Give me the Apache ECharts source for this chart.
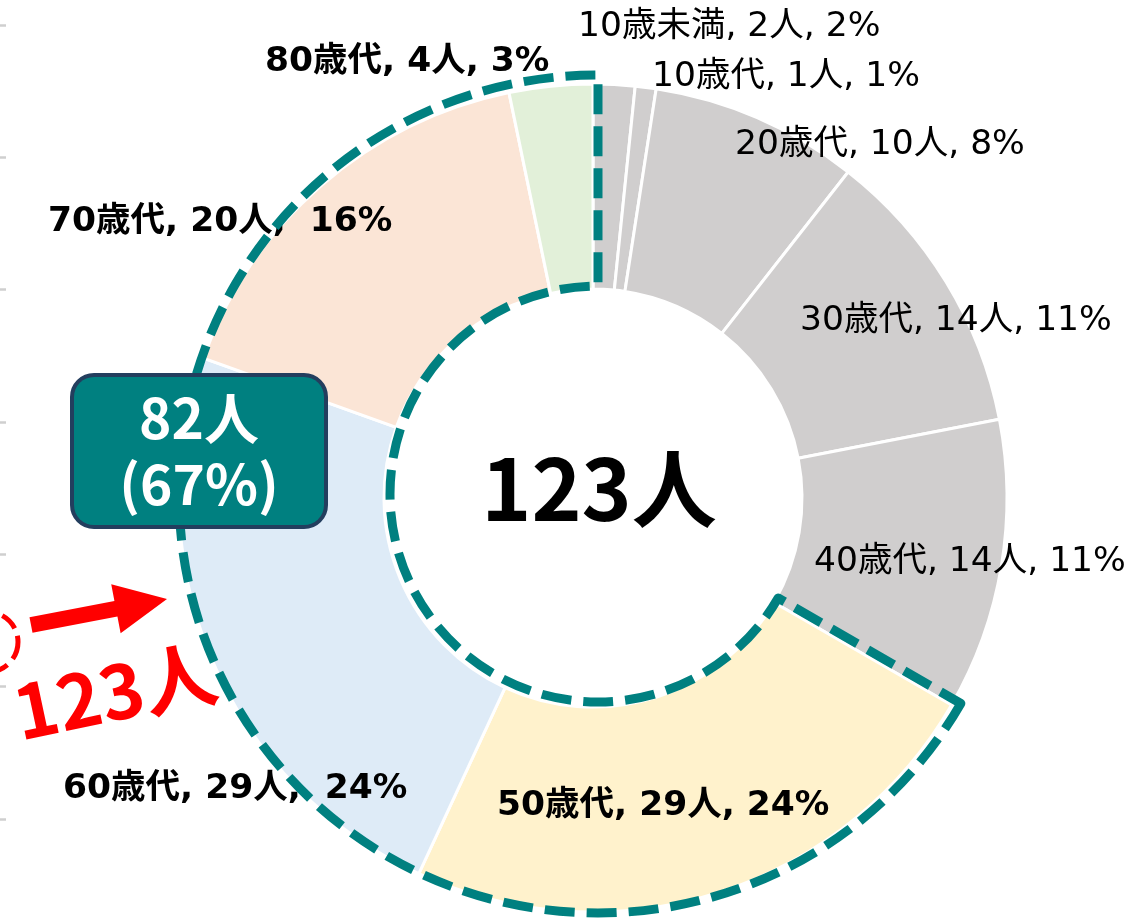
<!DOCTYPE html>
<html><head><meta charset="utf-8">
<script src="https://cdn.jsdelivr.net/npm/echarts@6/dist/echarts.min.js"></script>
<style>html,body{margin:0;padding:0;background:#fff;} #c{width:1129px;height:920px;}</style>
</head><body><div id="c"></div>
<script>
// ---- data ----
const categories = ['10歳未満', '10歳代', '20歳代', '30歳代', '40歳代', '50歳代', '60歳代', '70歳代', '80歳代'];
const counts = [2, 1, 10, 14, 14, 29, 29, 20, 4];
const highlightFrom = 5;            // first category inside the dashed outline
const axisTickValues = [0, 1, 2, 3, 4, 5, 6];
const unit = '人';

// ---- styles ----
const sliceColors = ['#D0CECE', '#D0CECE', '#D0CECE', '#D0CECE', '#D0CECE', '#FFF2CC', '#DEEBF7', '#FBE5D6', '#E2F0D9'];
const labelPos = [[578, 27], [652, 77], [735, 145], [800, 321], [814, 562], [497, 806], [63, 789], [48, 222], [265, 62]];
const wideGap = [0, 0, 0, 0, 0, 0, 1, 1, 0];
const LABEL_FONT = "'DejaVu Sans','Noto Sans CJK JP',sans-serif";
const CJK_FONT = "'Noto Sans CJK JP','DejaVu Sans',sans-serif";

const total = counts.reduce((a, b) => a + b, 0);
const restSum = counts.slice(0, highlightFrom).reduce((a, b) => a + b, 0);
const highSum = counts.slice(highlightFrom).reduce((a, b) => a + b, 0);

const chart = echarts.init(document.getElementById('c'), null, { renderer: 'canvas' });

// arrow geometry
function arrowPoints(tx, ty, hx, hy, shaftHalf, headHalf, headLen) {
  const dx = hx - tx, dy = hy - ty, L = Math.hypot(dx, dy);
  const ux = dx / L, uy = dy / L, nx = -uy, ny = ux;
  const bx = hx - ux * headLen, by = hy - uy * headLen;
  return [
    [tx + nx * shaftHalf, ty + ny * shaftHalf],
    [bx + nx * shaftHalf, by + ny * shaftHalf],
    [bx + nx * headHalf, by + ny * headHalf],
    [hx, hy],
    [bx - nx * headHalf, by - ny * headHalf],
    [bx - nx * shaftHalf, by - ny * shaftHalf],
    [tx - nx * shaftHalf, ty - ny * shaftHalf]
  ];
}

const option = {
  backgroundColor: '#ffffff',
  animation: false,
  grid: { left: 6, top: 25, height: 794, width: 60 },
  xAxis: { type: 'value', show: false, min: 0, max: 1 },
  yAxis: {
    type: 'value', min: axisTickValues[0], max: axisTickValues[axisTickValues.length - 1], interval: 1,
    axisLine: { show: false }, axisLabel: { show: false }, splitLine: { show: false },
    axisTick: { show: true, length: 6, lineStyle: { color: '#CFCFCF', width: 2.5 } }
  },
  series: [
    {
      type: 'pie',
      z: 2,
      center: [593, 498],
      radius: [209, 414],
      startAngle: 90,
      clockwise: true,
      silent: true,
      avoidLabelOverlap: false,
      percentPrecision: 0,
      itemStyle: { borderColor: '#ffffff', borderWidth: 3 },
      labelLine: { show: false },
      label: {
        show: true,
        position: 'outside',
        fontFamily: LABEL_FONT,
        fontSize: 34.5,
        color: '#000000',
        formatter: p => p.name + ', ' + p.value + unit + ',' + (wideGap[p.dataIndex] ? '  ' : ' ') + p.percent + '%'
      },
      labelLayout: p => ({ x: labelPos[p.dataIndex][0], y: labelPos[p.dataIndex][1], align: 'left', verticalAlign: 'middle' }),
      data: categories.map((c, i) => ({
        name: c, value: counts[i],
        itemStyle: { color: sliceColors[i] },
        label: { fontWeight: i >= highlightFrom ? 'bold' : 'normal' }
      }))
    },
    {
      type: 'pie',
      z: 4,
      center: [598, 494],
      radius: [208, 419],
      startAngle: 90,
      clockwise: true,
      silent: true,
      avoidLabelOverlap: false,
      percentPrecision: 0,
      labelLine: { show: false },
      labelLayout: p => ({ x: 199, y: 451, align: 'center', verticalAlign: 'middle' }),
      data: [
        { name: 'others', value: restSum, itemStyle: { color: 'rgba(0,0,0,0)', borderWidth: 0 }, label: { show: false } },
        {
          name: 'group', value: highSum,
          itemStyle: { color: 'rgba(0,0,0,0)', borderColor: '#008080', borderWidth: 9, borderType: [30, 12] },
          label: {
            show: true,
            position: 'outside',
            formatter: p => p.value + unit + '\n(' + p.percent + '%)',
            fontFamily: CJK_FONT, fontWeight: 'bold', fontSize: 55, lineHeight: 66,
            color: '#ffffff', align: 'center',
            backgroundColor: '#008080', borderColor: '#233E5E', borderWidth: 4, borderRadius: 20,
            padding: [8, 12], width: 226
          }
        }
      ]
    }
  ],
  graphic: [
    {
      type: 'text', x: 599, y: 489, z: 10,
      style: { text: total + unit, font: "bold 85px " + CJK_FONT, fill: '#000000', align: 'center', verticalAlign: 'middle', textAlign: 'center', textVerticalAlign: 'middle' }
    },
    {
      type: 'polygon', z: 10,
      shape: { points: arrowPoints(31, 625, 167, 599, 8, 25, 52) },
      style: { fill: '#FF0000' }
    },
    {
      type: 'text', x: 115, y: 692, rotation: 0.21, z: 10,
      style: { text: total + unit, font: "bold 74px " + CJK_FONT, fill: '#FF0000', align: 'center', verticalAlign: 'middle', textAlign: 'center', textVerticalAlign: 'middle' }
    },
    {
      type: 'circle', z: 10,
      shape: { cx: -12, cy: 642, r: 30 },
      style: { fill: 'none', stroke: '#FF0000', lineWidth: 5, lineDash: [18, 8] }
    }
  ]
};
chart.setOption(option);
</script>
</body></html>
